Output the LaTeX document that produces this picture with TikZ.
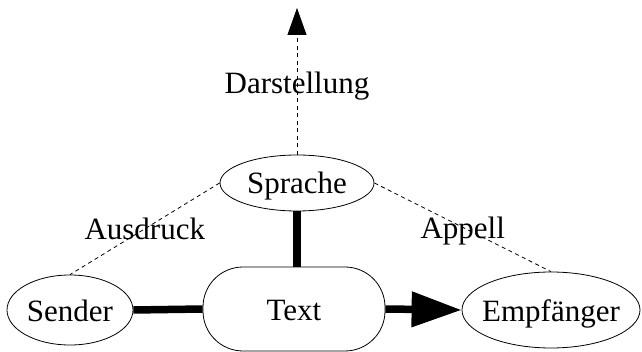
\documentclass[tikz,border=0pt]{standalone}
\usepackage{fontspec}
\setmainfont{Liberation Serif}
\usetikzlibrary{shapes.geometric,arrows.meta}
\begin{document}
\begin{tikzpicture}[x=1pt,y=-1pt,
  every node/.style={font=\fontsize{31}{36}\selectfont, inner sep=0pt, text height=22pt, text depth=0pt},
  ell/.style={ellipse, draw, line width=0.8pt},
  thick link/.style={line width=7.5pt},
  thin dash/.style={line width=0.8pt, dash pattern=on 4pt off 3.5pt},
  lbl/.style={anchor=center}]
\useasboundingbox (0,0) rectangle (642,352);
\node[ell, minimum width=154pt, minimum height=56pt] (sprache) at (297,183) {Sprache};
\node[ell, inner xsep=-6pt, minimum width=126pt, minimum height=70pt] (sender) at (70,310) {Sender};
\node[ell, inner xsep=-14pt, minimum width=178pt, minimum height=76pt] (empf) at (551,310) {Empfänger};
\node[draw, line width=0.8pt, rounded corners=40pt, minimum width=182pt, minimum height=84pt] (text) at (294,309) {Text};
\coordinate (top) at (297,8);
\draw[thick link] (sprache) -- (sprache |- text.north);
\draw[thick link] (sender.east) -- (text.west);
\draw[thick link, -{Triangle[length=50pt,width=34pt]}] (text.east) -- (empf.west);
\draw[thin dash, -{Triangle[length=27pt,width=19pt]}] (sprache.north) -- (top) node[pos=0.49, lbl] (darst) {Darstellung};
\draw[thin dash] (sprache.west) -- (sender.north) node[midway, lbl] (ausdr) {Ausdruck};
\draw[thin dash] (sprache.east) -- (empf.north) node[midway, lbl] (appell) {Appell};
\end{tikzpicture}
\end{document}
